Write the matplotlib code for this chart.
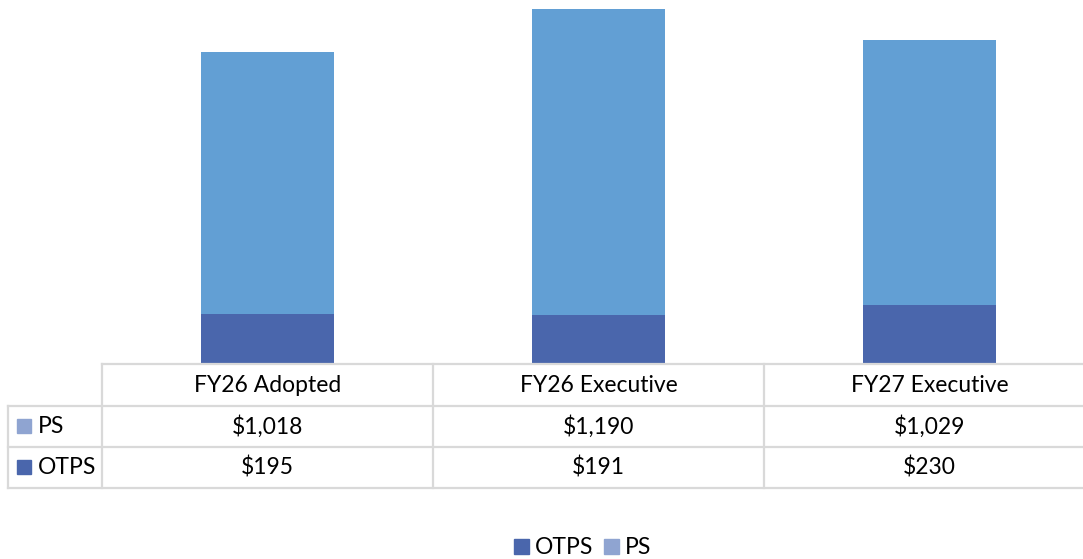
import matplotlib
matplotlib.use("Agg")
import matplotlib.pyplot as plt
from matplotlib.lines import Line2D
from matplotlib.patches import Rectangle

# data
categories = ["FY26 Adopted", "FY26 Executive", "FY27 Executive"]
ps = [1018, 1190, 1029]
otps = [195, 191, 230]

col_otps = "#4A66AC"
col_ps = "#629FD4"
col_ps_key = "#8FA4D1"
grid_col = "#D9D9D9"

plt.rcParams['font.family'] = ['Lato', 'DejaVu Sans']

W, H = 1083, 559
fig = plt.figure(figsize=(W / 100, H / 100), dpi=100)

def fx(px):
    return px / W

def fy(py):
    return 1 - py / H

# bars: plot area from x=102 to 1095, y=0 to 364
ax = fig.add_axes([fx(102), fy(364), fx(1095) - fx(102), fy(0) - fy(364)])
x = range(len(categories))
ax.bar(x, otps, width=0.4, color=col_otps)
ax.bar(x, ps, width=0.4, bottom=otps, color=col_ps)
ax.set_xlim(-0.5, 2.5)
ax.set_ylim(0, 1416)
ax.axis("off")

# data table below the bars
col_edges = [102, 433, 764, 1095]
row_edges = [364, 406, 447, 488]
lw = 1.6
fig.add_artist(Line2D([fx(102), 1.02], [fy(364), fy(364)], color=grid_col, lw=lw))
for y in row_edges[1:]:
    fig.add_artist(Line2D([fx(8), 1.02], [fy(y), fy(y)], color=grid_col, lw=lw))
for xe in col_edges:
    fig.add_artist(Line2D([fx(xe), fx(xe)], [fy(364), fy(488)], color=grid_col, lw=lw))
fig.add_artist(Line2D([fx(8), fx(8)], [fy(406), fy(488)], color=grid_col, lw=lw))

fs = 16.5
for i, cat in enumerate(categories):
    cx = (col_edges[i] + col_edges[i + 1]) / 2
    fig.text(fx(cx), fy(385), cat, ha="center", va="center", fontsize=fs)
    fig.text(fx(cx), fy(426.5), "${:,}".format(ps[i]), ha="center", va="center", fontsize=fs)
    fig.text(fx(cx), fy(467.5), "${:,}".format(otps[i]), ha="center", va="center", fontsize=fs)

# row labels with colour keys
for label, color, yc in [("PS", col_ps_key, 426.5), ("OTPS", col_otps, 467.5)]:
    fig.add_artist(Rectangle((fx(17), fy(yc + 6.5)), fx(14), fy(0) - fy(14),
                             color=color, transform=fig.transFigure))
    fig.text(fx(38), fy(yc), label, ha="left", va="center", fontsize=fs)

# legend at the bottom
leg_y = 547
for label, color, x0 in [("OTPS", col_otps, 514), ("PS", col_ps_key, 604)]:
    fig.add_artist(Rectangle((fx(x0), fy(leg_y + 7)), fx(15), fy(0) - fy(15),
                             color=color, transform=fig.transFigure))
    fig.text(fx(x0 + 21), fy(leg_y), label, ha="left", va="center", fontsize=fs)

fig.savefig("out.png", dpi=100)
